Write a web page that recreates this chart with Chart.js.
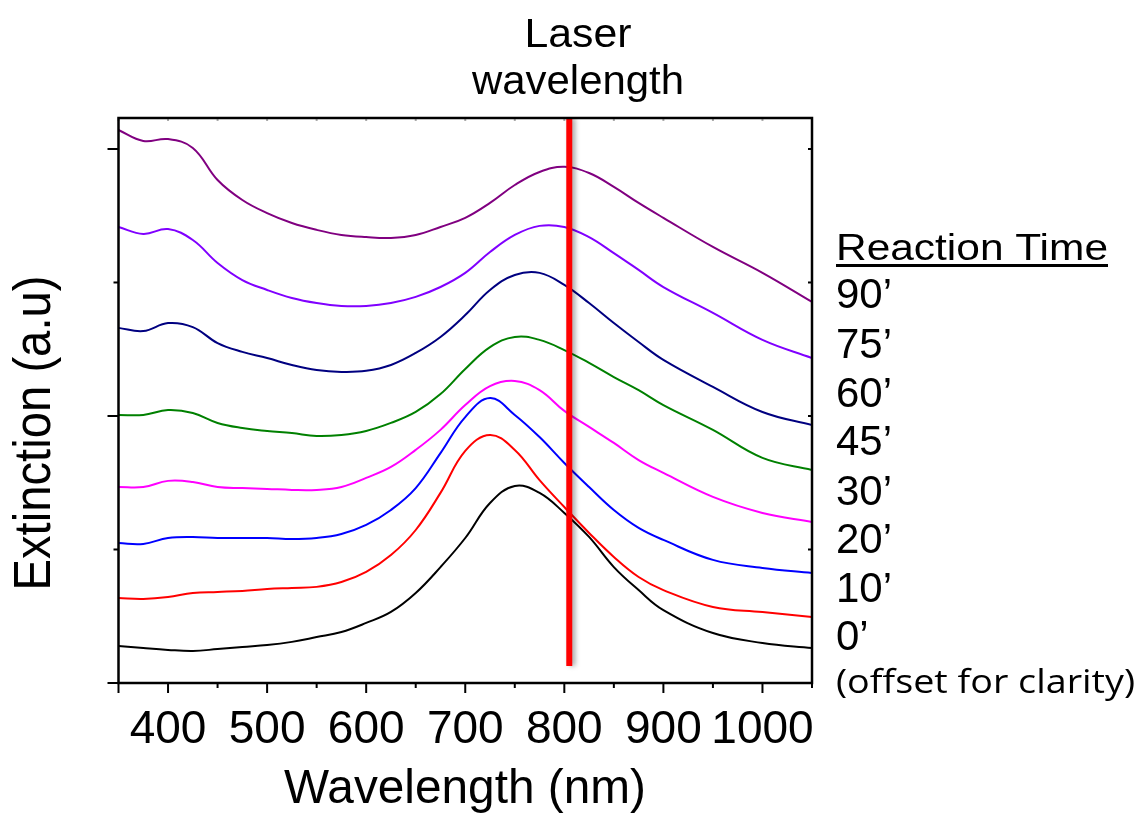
<!DOCTYPE html>
<html>
<head>
<meta charset="utf-8">
<script src="https://cdn.jsdelivr.net/npm/chart.js@4/dist/chart.umd.min.js"></script>
<style>
  body { margin: 0; background: #fff; }
  canvas { display: block; }
</style>
</head>
<body>
<canvas id="chart-spectra" width="1140" height="814"></canvas>
<script>
// wavelengths (nm)
const wavelengths = [350, 375, 400, 425, 450, 475, 500, 525, 550, 575, 600, 625, 650, 675, 700, 725, 750, 775, 800, 825, 850, 875, 900, 950, 1000, 1050];

// extinction, offset for clarity (a.u)
const t90 = [2.071, 2.030, 2.037, 2.004, 1.884, 1.809, 1.760, 1.723, 1.697, 1.678, 1.670, 1.667, 1.678, 1.708, 1.742, 1.798, 1.865, 1.914, 1.933, 1.910, 1.858, 1.798, 1.742, 1.633, 1.536, 1.427];
const t75 = [1.708, 1.682, 1.700, 1.659, 1.573, 1.509, 1.472, 1.442, 1.423, 1.412, 1.412, 1.423, 1.446, 1.483, 1.536, 1.614, 1.678, 1.712, 1.708, 1.670, 1.610, 1.547, 1.483, 1.386, 1.285, 1.217];
const t60 = [1.330, 1.318, 1.348, 1.333, 1.273, 1.240, 1.217, 1.191, 1.172, 1.165, 1.169, 1.191, 1.236, 1.296, 1.378, 1.472, 1.528, 1.536, 1.491, 1.423, 1.348, 1.277, 1.210, 1.109, 1.015, 0.966];
const t45 = [1.004, 1.004, 1.022, 1.011, 0.974, 0.955, 0.944, 0.936, 0.925, 0.929, 0.944, 0.974, 1.015, 1.082, 1.176, 1.258, 1.296, 1.285, 1.247, 1.199, 1.146, 1.097, 1.041, 0.948, 0.843, 0.798];
const t30 = [0.734, 0.734, 0.757, 0.753, 0.734, 0.730, 0.727, 0.723, 0.723, 0.734, 0.768, 0.809, 0.873, 0.948, 1.041, 1.112, 1.131, 1.097, 1.019, 0.959, 0.899, 0.835, 0.787, 0.697, 0.637, 0.603];
const t20 = [0.524, 0.521, 0.543, 0.547, 0.543, 0.543, 0.543, 0.539, 0.543, 0.558, 0.592, 0.648, 0.730, 0.861, 0.996, 1.067, 1.004, 0.921, 0.824, 0.734, 0.648, 0.581, 0.536, 0.461, 0.431, 0.412];
const t10 = [0.318, 0.315, 0.322, 0.337, 0.341, 0.345, 0.352, 0.356, 0.360, 0.378, 0.416, 0.479, 0.573, 0.712, 0.869, 0.929, 0.873, 0.760, 0.659, 0.562, 0.472, 0.397, 0.348, 0.285, 0.266, 0.247];
const t0  = [0.139, 0.131, 0.124, 0.120, 0.127, 0.135, 0.142, 0.154, 0.172, 0.191, 0.225, 0.266, 0.337, 0.434, 0.543, 0.674, 0.738, 0.712, 0.637, 0.547, 0.434, 0.348, 0.273, 0.187, 0.150, 0.131];

const seriesLabels = ["90’", "75’", "60’", "45’", "30’", "20’", "10’", "0’"];
const seriesColors = ["#800080", "#8000ff", "#000080", "#008000", "#ff00ff", "#0000ff", "#ff0000", "#000000"];
const seriesValues = [t90, t75, t60, t45, t30, t20, t10, t0];

// laser line
const laserWavelength = 805;
const laserSpan = [0.064, 2.116];

// axes
const xTickLabels = [400, 500, 600, 700, 800, 900, 1000];
const xTickSteps = [350, 400, 450, 500, 550, 600, 650, 700, 750, 800, 850, 900, 950, 1000, 1050];
const yTickSteps = [0, 0.5, 1, 1.5, 2];

const FONT = '"Liberation Sans", Arial, sans-serif';

function toPoints(vals) {
  return wavelengths.map((w, i) => ({ x: w, y: vals[i] }));
}

// texto com largura ajustada (a figura original está esticada na horizontal)
function drawText(ctx, text, x, y, font, align, width) {
  ctx.save();
  ctx.font = font;
  ctx.textBaseline = 'alphabetic';
  const w = ctx.measureText(text).width;
  const sx = width ? width / w : 1;
  ctx.translate(x, y);
  ctx.scale(sx, 1);
  let dx = 0;
  if (align === 'center') dx = -w / 2;
  if (align === 'right') dx = -w;
  ctx.textAlign = 'left';
  ctx.fillText(text, dx, 0);
  ctx.restore();
}

const framePlugin = {
  id: 'frame',
  beforeDatasetDraw(chart, args) {
    if (args.index === 0) {
      const ctx = chart.ctx;
      ctx.save();
      ctx.shadowColor = 'rgba(0,0,0,0.35)';
      ctx.shadowBlur = 5;
      ctx.shadowOffsetX = 3;
    }
  },
  afterDatasetDraw(chart, args) {
    if (args.index === 0) chart.ctx.restore();
  },
  afterDraw(chart) {
    const ctx = chart.ctx;
    const a = chart.chartArea;
    const xs = chart.scales.x;
    const ys = chart.scales.y;
    ctx.save();
    ctx.fillStyle = '#000';

    // ticks
    ctx.lineWidth = 2;
    xTickSteps.forEach(w => {
      const px = xs.getPixelForValue(w);
      const len = (w % 100 === 0 || w === 350) ? 10 : 5;
      ctx.strokeStyle = '#000';
      ctx.beginPath();
      ctx.moveTo(px, a.bottom);
      ctx.lineTo(px, a.bottom + len);
      ctx.stroke();
      ctx.strokeStyle = '#aaa';
      ctx.beginPath();
      ctx.moveTo(px, a.top);
      ctx.lineTo(px, a.top + 3);
      ctx.stroke();
    });
    yTickSteps.forEach(v => {
      const py = ys.getPixelForValue(v);
      const len = Number.isInteger(v) ? 11 : 5;
      ctx.strokeStyle = '#000';
      ctx.beginPath();
      ctx.moveTo(a.left - len, py);
      ctx.lineTo(a.left, py);
      ctx.stroke();
      ctx.beginPath();
      ctx.moveTo(a.right - 4, py);
      ctx.lineTo(a.right, py);
      ctx.stroke();
    });

    // moldura
    ctx.strokeStyle = '#000';
    ctx.lineWidth = 2.5;
    ctx.strokeRect(a.left, a.top, a.right - a.left, a.bottom - a.top);

    // rótulos do eixo x
    xTickLabels.forEach(w => {
      drawText(ctx, String(w), xs.getPixelForValue(w), 743, '46px ' + FONT, 'center');
    });

    // títulos
    drawText(ctx, 'Wavelength (nm)', 465, 803, '48px ' + FONT, 'center', 362);
    ctx.save();
    ctx.translate(50, 433);
    ctx.rotate(-Math.PI / 2);
    drawText(ctx, 'Extinction (a.u)', 0, 0, '52px ' + FONT, 'center', 315);
    ctx.restore();
    drawText(ctx, 'Laser', 578, 47, '40px ' + FONT, 'center', 107);
    drawText(ctx, 'wavelength', 578, 94, '40px ' + FONT, 'center', 212);

    // legenda
    drawText(ctx, 'Reaction Time', 836, 260, '36px ' + FONT, 'left', 272);
    ctx.fillRect(836, 264, 272, 3);
    const baselines = [308, 358, 407, 455, 505, 553, 602, 650];
    seriesLabels.forEach((lab, i) => {
      drawText(ctx, lab, 836, baselines[i], '42px ' + FONT, 'left');
    });
    drawText(ctx, '(offset for clarity)', 836, 693, '33px "Open Sans", sans-serif', 'left', 299);
    ctx.restore();
  }
};

const datasets = [{
  label: 'Laser wavelength',
  data: laserSpan.map(v => ({ x: laserWavelength, y: v })),
  borderColor: '#ff0000',
  borderWidth: 6,
  pointRadius: 0,
  fill: false
}];
seriesValues.forEach((vals, i) => {
  datasets.push({
    label: seriesLabels[i],
    data: toPoints(vals),
    borderColor: seriesColors[i],
    borderWidth: 2,
    pointRadius: 0,
    tension: 0.4,
    fill: false
  });
});

var ctx = document.getElementById('chart-spectra').getContext('2d');

new Chart(ctx, {
  type: 'line',
  data: { datasets: datasets },
  options: {
    responsive: false,
    animation: false,
    layout: {
      padding: { left: 118.5, top: 118, right: 328, bottom: 131 }
    },
    plugins: {
      legend: { display: false },
      tooltip: { enabled: false }
    },
    scales: {
      x: { type: 'linear', min: 350, max: 1050, display: false },
      y: { type: 'linear', min: 0, max: 2.116, display: false }
    }
  },
  plugins: [framePlugin]
});
</script>
</body>
</html>
